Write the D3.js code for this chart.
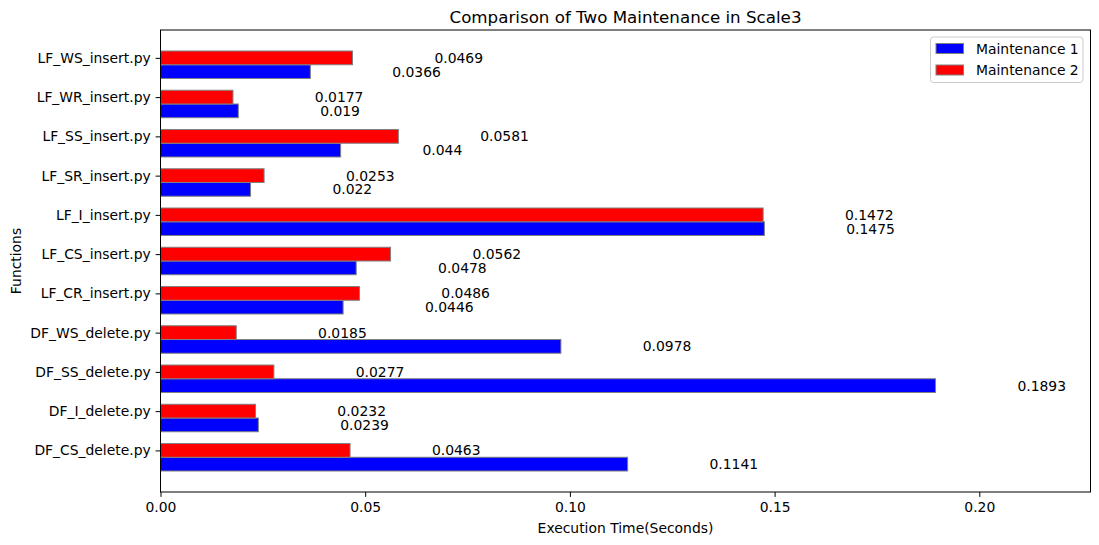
<!DOCTYPE html>
<html>
<head>
<meta charset="utf-8">
<script src="https://cdn.jsdelivr.net/npm/d3@7"></script>
<style>
  body { margin: 0; background: #fff; }
  svg text { font-family: "DejaVu Sans", sans-serif; fill: #000; }
  .axis path, .axis line { stroke: #000; stroke-width: 1; }
</style>
</head>
<body>
<svg id="chart"></svg>
<script>
// data, bottom to top as in the plot
const functions = ['DF_CS_delete.py', 'DF_I_delete.py', 'DF_SS_delete.py', 'DF_WS_delete.py',
  'LF_CR_insert.py', 'LF_CS_insert.py', 'LF_I_insert.py', 'LF_SR_insert.py',
  'LF_SS_insert.py', 'LF_WR_insert.py', 'LF_WS_insert.py'];
const maintenance1 = [0.1141, 0.0239, 0.1893, 0.0978, 0.0446, 0.0478, 0.1475, 0.022, 0.044, 0.019, 0.0366];
const maintenance2 = [0.0463, 0.0232, 0.0277, 0.0185, 0.0486, 0.0562, 0.1472, 0.0253, 0.0581, 0.0177, 0.0469];
const xTicks = [0, 0.05, 0.10, 0.15, 0.20];
const seriesNames = ['Maintenance 1', 'Maintenance 2'];
const seriesColors = ['blue', 'red'];

const config = {
  width: 1099,
  height: 545,
  margin: { top: 30, right: 8.5, bottom: 53, left: 160.5 },
  barHeight: 0.35,
  labelOffset: 0.02
};

const innerW = config.width - config.margin.left - config.margin.right;
const innerH = config.height - config.margin.top - config.margin.bottom;

const svg = d3.select('#chart')
  .attr('width', config.width)
  .attr('height', config.height);

const g = svg.append('g')
  .attr('transform', `translate(${config.margin.left},${config.margin.top})`);

const maxVal = d3.max(maintenance1.concat(maintenance2));
const xScale = d3.scaleLinear()
  .domain([0, maxVal * 1.2])
  .range([0, innerW]);

// y in data units: red bars centred on i, blue bars centred on i - 0.35
const lo = -config.barHeight - config.barHeight / 2;
const hi = functions.length - 1 + config.barHeight / 2;
const pad = (hi - lo) * 0.05;
const yScale = d3.scaleLinear()
  .domain([lo - pad, hi + pad])
  .range([innerH, 0]);

const rows = functions.map((f, i) => ({ f, i, m1: maintenance1[i], m2: maintenance2[i] }));

// bars
const bh = yScale(0) - yScale(config.barHeight);
g.selectAll('.bar1')
  .data(rows)
  .enter()
  .append('rect')
  .attr('class', 'bar1')
  .attr('x', xScale(0))
  .attr('y', d => yScale(d.i - config.barHeight / 2))
  .attr('width', d => xScale(d.m1) - xScale(0))
  .attr('height', bh)
  .attr('fill', seriesColors[0])
  .attr('stroke', 'grey')
  .attr('stroke-width', 1);

g.selectAll('.bar2')
  .data(rows)
  .enter()
  .append('rect')
  .attr('class', 'bar2')
  .attr('x', xScale(0))
  .attr('y', d => yScale(d.i + config.barHeight / 2))
  .attr('width', d => xScale(d.m2) - xScale(0))
  .attr('height', bh)
  .attr('fill', seriesColors[1])
  .attr('stroke', 'grey')
  .attr('stroke-width', 1);

// value labels
g.selectAll('.lab1')
  .data(rows)
  .enter()
  .append('text')
  .attr('x', d => xScale(d.m1 + config.labelOffset))
  .attr('y', d => yScale(d.i - config.barHeight))
  .attr('dy', '0.36em')
  .style('font-size', '13.9px')
  .text(d => d.m1);

g.selectAll('.lab2')
  .data(rows)
  .enter()
  .append('text')
  .attr('x', d => xScale(d.m2 + config.labelOffset))
  .attr('y', d => yScale(d.i))
  .attr('dy', '0.36em')
  .style('font-size', '13.9px')
  .text(d => d.m2);

// axes
const xAxis = d3.axisBottom(xScale)
  .tickValues(xTicks)
  .tickFormat(d3.format('.2f'))
  .tickSize(4.9)
  .tickSizeOuter(0)
  .tickPadding(4.9);
const xAxisG = g.append('g')
  .attr('class', 'axis')
  .attr('transform', `translate(0,${innerH})`)
  .call(xAxis);
xAxisG.select('.domain').remove();
xAxisG.selectAll('text').style('font-size', '13.9px');

const yAxis = d3.axisLeft(yScale)
  .tickValues(functions.map((f, i) => i))
  .tickFormat(i => functions[i])
  .tickSize(4.9)
  .tickPadding(4.9);
const yAxisG = g.append('g')
  .attr('class', 'axis')
  .call(yAxis);
yAxisG.select('.domain').remove();
yAxisG.selectAll('text').style('font-size', '13.9px');

// frame
g.append('rect')
  .attr('width', innerW)
  .attr('height', innerH)
  .attr('fill', 'none')
  .attr('stroke', '#000')
  .attr('stroke-width', 1);

// titles
svg.append('text')
  .attr('x', config.margin.left + innerW / 2)
  .attr('y', 23)
  .attr('text-anchor', 'middle')
  .style('font-size', '16.7px')
  .text('Comparison of Two Maintenance in Scale3');

svg.append('text')
  .attr('x', config.margin.left + innerW / 2)
  .attr('y', 533)
  .attr('text-anchor', 'middle')
  .style('font-size', '13.9px')
  .text('Execution Time(Seconds)');

svg.append('text')
  .attr('transform', `translate(21,${config.margin.top + innerH / 2}) rotate(-90)`)
  .attr('text-anchor', 'middle')
  .style('font-size', '13.9px')
  .text('Functions');

// legend
const legend = g.append('g')
  .attr('transform', `translate(${innerW - 160},7)`);
legend.append('rect')
  .attr('width', 152.5)
  .attr('height', 45.5)
  .attr('rx', 3)
  .attr('fill', '#fff')
  .attr('fill-opacity', 0.8)
  .attr('stroke', '#ccc');
seriesNames.forEach((name, k) => {
  legend.append('rect')
    .attr('x', 5.5)
    .attr('y', 6.5 + k * 21.5)
    .attr('width', 27.5)
    .attr('height', 10)
    .attr('fill', seriesColors[k])
    .attr('stroke', 'grey');
  legend.append('text')
    .attr('x', 45.5)
    .attr('y', 11.5 + k * 21.5)
    .attr('dy', '0.36em')
    .style('font-size', '13.9px')
    .text(name);
});
</script>
</body>
</html>
